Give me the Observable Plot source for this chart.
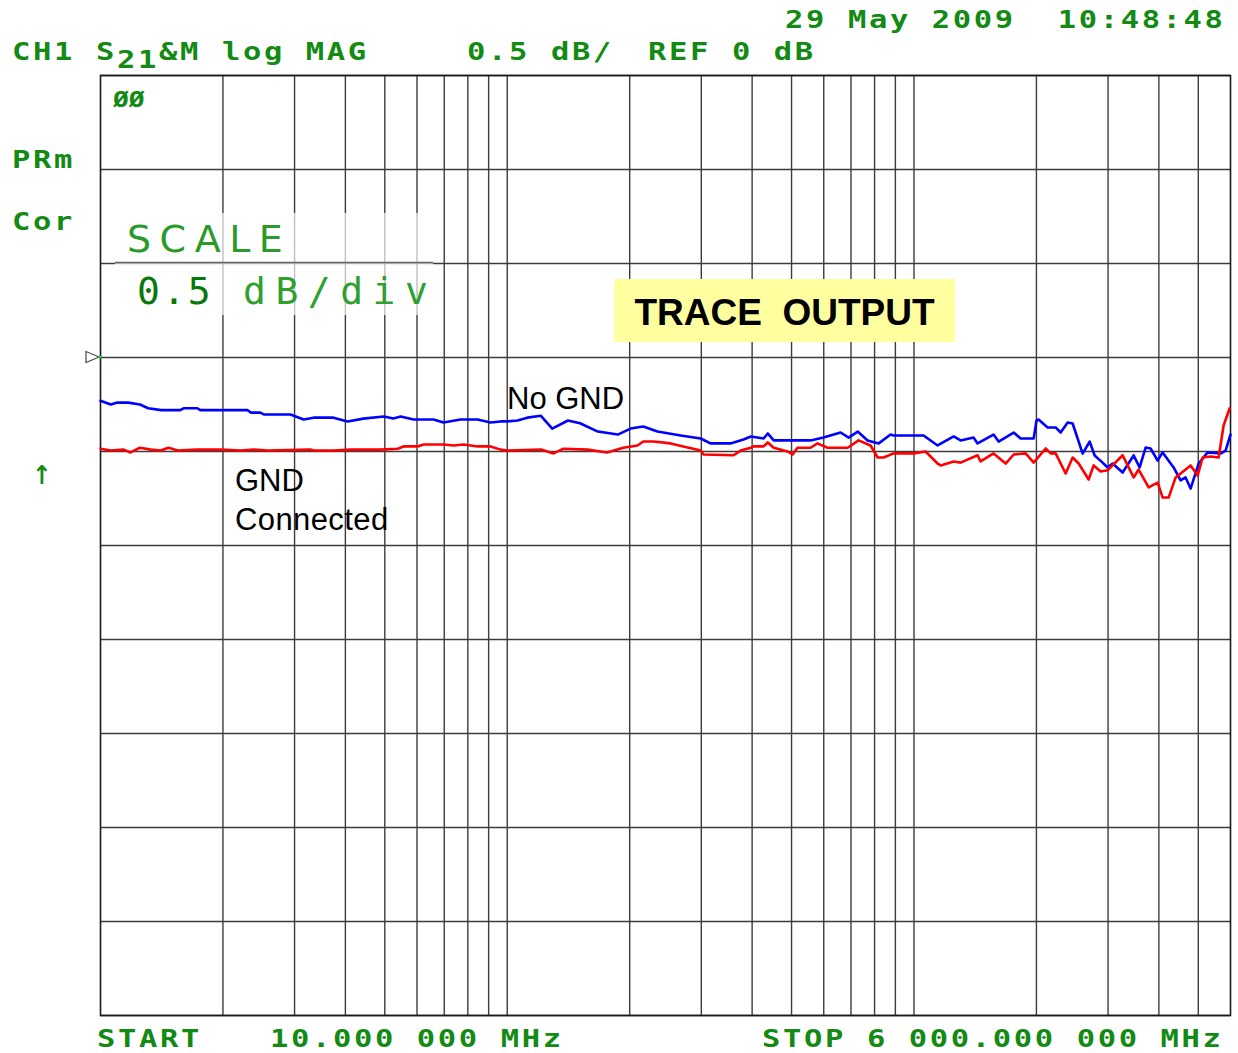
<!DOCTYPE html>
<html>
<head>
<meta charset="utf-8">
<script src="https://cdn.jsdelivr.net/npm/d3@7"></script>
<script src="https://cdn.jsdelivr.net/npm/@observablehq/plot@0.6"></script>
<style>
  html, body { margin: 0; padding: 0; background: #fff; }
  #chart { width: 1238px; height: 1053px; position: relative; }
</style>
</head>
<body>
<div id="chart"></div>
<script>
// Frequency grid (MHz) on the log axis, and level grid (dB), 0.5 dB/div
const xGridMHz = [20, 30, 40, 50, 60, 70, 80, 90, 100, 200, 300, 400, 500, 600, 700, 800, 900, 1000, 2000, 3000, 4000, 5000];
const yGridDb = [-3.5, -3, -2.5, -2, -1.5, -1, -0.5, 0, 0.5, 1, 1.5];
const startMHz = 10;
const stopMHz = 6000;

// Trace "No GND" (blue): [frequency MHz, S21 dB]
const noGndTrace = [
  [10,-0.23],[10.6,-0.25],[11.0,-0.24],[11.7,-0.24],[12.5,-0.25],[13.1,-0.27],[14.1,-0.28],[15.7,-0.28],
  [16.0,-0.27],[17.3,-0.27],[17.6,-0.28],[19.0,-0.28],[19.7,-0.28],[23.0,-0.28],[23.4,-0.293],[24.7,-0.293],
  [25.2,-0.303],[29.3,-0.303],[31.6,-0.33],[33.4,-0.32],[37.4,-0.32],[40.5,-0.34],[44.3,-0.325],[49.7,-0.314],
  [52.5,-0.324],[54.7,-0.314],[58.8,-0.33],[65.9,-0.33],[69.7,-0.346],[76.8,-0.33],[84.5,-0.33],[91.0,-0.346],
  [96.3,-0.34],[100,-0.34],[106,-0.335],[112,-0.32],[121,-0.31],[129,-0.378],[141,-0.335],[151,-0.35],
  [167,-0.394],[187,-0.41],[201,-0.378],[216,-0.367],[234,-0.394],[267,-0.415],[299,-0.431],[316,-0.457],
  [354,-0.457],[381,-0.436],[397,-0.42],[427,-0.431],[437,-0.404],[452,-0.441],[497,-0.441],[557,-0.441],
  [599,-0.426],[660,-0.399],[691,-0.426],[727,-0.394],[769,-0.441],[819,-0.457],[876,-0.41],[891,-0.415],
  [1056,-0.415],[1143,-0.468],[1252,-0.42],[1302,-0.441],[1401,-0.426],[1433,-0.457],[1569,-0.41],[1615,-0.447],
  [1758,-0.399],[1829,-0.431],[1969,-0.431],[2001,-0.335],[2024,-0.33],[2131,-0.372],[2230,-0.372],[2294,-0.399],
  [2387,-0.346],[2455,-0.351],[2598,-0.511],[2703,-0.447],[2781,-0.521],[2909,-0.559],[2992,-0.585],[3078,-0.564],
  [3258,-0.612],[3467,-0.521],[3587,-0.585],[3711,-0.479],[3817,-0.484],[3972,-0.548],[4086,-0.505],[4348,-0.585],
  [4524,-0.654],[4653,-0.638],[4787,-0.697],[5010,-0.564],[5271,-0.505],[5673,-0.511],[5836,-0.495],[6000,-0.41]
];

// Trace "GND Connected" (red): [frequency MHz, S21 dB]
const gndTrace = [
  [10,-0.485],[10.6,-0.495],[11.4,-0.49],[11.85,-0.505],[12.5,-0.48],[13.3,-0.49],[14.05,-0.495],[14.7,-0.48],
  [15.5,-0.495],[17.3,-0.49],[19.7,-0.49],[22.1,-0.495],[23.8,-0.49],[25.7,-0.495],[32.8,-0.49],[33.4,-0.495],
  [37.4,-0.495],[41.2,-0.49],[48.8,-0.49],[53.8,-0.485],[55.6,-0.473],[60.2,-0.473],[62.3,-0.463],[69.7,-0.463],
  [73.8,-0.468],[78.1,-0.463],[84.5,-0.473],[91,-0.473],[96.3,-0.49],[100,-0.495],[121,-0.49],[130,-0.51],
  [137.5,-0.485],[157.6,-0.49],[176,-0.505],[193,-0.48],[209,-0.468],[216,-0.447],[229,-0.447],[252,-0.457],
  [271,-0.473],[299,-0.495],[304,-0.516],[360,-0.52],[375,-0.495],[397,-0.48],[403,-0.473],[427,-0.473],
  [437,-0.452],[452,-0.48],[489,-0.50],[503,-0.516],[517,-0.48],[557,-0.48],[579,-0.457],[613,-0.48],
  [687,-0.48],[731,-0.441],[782,-0.468],[814,-0.532],[842,-0.532],[891,-0.51],[998,-0.51],[1068,-0.50],
  [1143,-0.564],[1163,-0.574],[1252,-0.553],[1302,-0.559],[1433,-0.52],[1458,-0.553],[1569,-0.51],[1680,-0.564],
  [1758,-0.516],[1882,-0.51],[1969,-0.559],[2107,-0.484],[2168,-0.51],[2230,-0.51],[2360,-0.617],[2455,-0.532],
  [2540,-0.564],[2688,-0.649],[2765,-0.574],[2876,-0.606],[2992,-0.60],[3258,-0.52],[3467,-0.638],[3567,-0.596],
  [3775,-0.691],[3972,-0.665],[4086,-0.745],[4227,-0.745],[4398,-0.638],[4787,-0.574],[4981,-0.628],[5124,-0.532],
  [5361,-0.527],[5610,-0.532],[5770,-0.362],[5970,-0.271]
];

const toRows = (arr, name) => arr.map(([f, db]) => ({f, db, name}));

const svg = Plot.plot({
  width: 1238,
  height: 1053,
  marginLeft: 100,
  marginRight: 8,
  marginTop: 75,
  marginBottom: 38,
  style: {background: "#fff", overflow: "visible"},
  x: {type: "log", domain: [startMHz, stopMHz], axis: null},
  y: {domain: [-3.5, 1.5], axis: null},
  marks: [
    Plot.ruleX(xGridMHz, {stroke: "#3c3c3c", strokeWidth: 1.4}),
    Plot.ruleY(yGridDb, {stroke: "#3c3c3c", strokeWidth: 1.4}),
    Plot.frame({stroke: "#1a1a1a", strokeWidth: 1.6}),
    Plot.line(toRows(noGndTrace, "No GND"), {x: "f", y: "db", stroke: "#0000ff", strokeWidth: 2.6}),
    Plot.line(toRows(gndTrace, "GND Connected"), {x: "f", y: "db", stroke: "#ff0000", strokeWidth: 2.6})
  ]
});
document.getElementById("chart").appendChild(svg);

// ---- annotations (analyzer screen text) ----
const g = d3.select(svg).append("g");
const green = "#138a13";
const mono = "'DejaVu Sans Mono', monospace";

function lbl(txt, x, y, opts = {}) {
  const sx = opts.sx || 1;
  g.append("text")
    .attr("transform", `translate(${x},${y}) scale(${sx},1)`)
    .attr("fill", opts.fill || green)
    .attr("font-family", opts.family || mono)
    .attr("font-weight", opts.weight || "bold")
    .attr("font-size", opts.size || 25)
    .attr("letter-spacing", opts.ls != null ? opts.ls : 0)
    .attr("text-anchor", opts.anchor || "start")
    .attr("xml:space", "preserve")
    .style("white-space", "pre")
    .text(txt);
}
// HP-style screen font: wide glyphs, 21 px per character cell
const hp = {size: 25, sx: 1.22, ls: 2.15};

// header
lbl("29 May 2009  10:48:48", 785, 28, hp);
lbl("CH1 S", 12, 60, hp);
lbl("21", 117, 68, hp);
lbl("&M log MAG", 159, 60, hp);
lbl("0.5 dB/", 467, 60, hp);
lbl("REF 0 dB", 648, 60, hp);
// left status
lbl("PRm", 12, 168, hp);
lbl("Cor", 12, 230, hp);
lbl("\u2191", 42, 484, {family: "'DejaVu Sans', sans-serif", anchor: "middle", size: 26, sx: 0.9});
lbl("ØØ", 113, 107, {size: 21, sx: 1.25, ls: 0});
// footer
lbl("START", 97, 1047, hp);
lbl("10.000 000 MHz", 270, 1047, hp);
lbl("STOP 6 000.000 000 MHz", 762, 1047, hp);

// reference position marker
g.append("path")
  .attr("d", "M86,351.5 L99,357 L86,362.5 Z")
  .attr("fill", "none").attr("stroke", "#555").attr("stroke-width", 1.3);
g.append("circle").attr("cx", 100).attr("cy", 357).attr("r", 1.6).attr("fill", "#2c2");

// SCALE overlay box
g.append("rect").attr("x", 115).attr("y", 213).attr("width", 318).attr("height", 102)
  .attr("fill", "#fff").attr("fill-opacity", 0.68);
g.append("line").attr("x1", 115).attr("x2", 433).attr("y1", 262.5).attr("y2", 262.5)
  .attr("stroke", "#666").attr("stroke-width", 1.6);
lbl("SCALE", 127, 252, {family: "'DejaVu Sans', sans-serif", weight: "normal", size: 38, ls: 8.5, fill: "#2b9a2b"});
lbl("0.5", 137, 304, {weight: "normal", size: 38, ls: 2.5, fill: "#087808"});
lbl("dB/div", 243, 304, {weight: "normal", size: 38, ls: 9.5, fill: "#2fa02f"});

// TRACE OUTPUT box
g.append("rect").attr("x", 614).attr("y", 279).attr("width", 341).attr("height", 63).attr("fill", "#ffffa0");
lbl("TRACE  OUTPUT", 784.5, 325, {family: "'Liberation Sans', Arial, sans-serif", size: 37, ls: 0, fill: "#000", anchor: "middle"});

// trace labels
const sans = "'Liberation Sans', Arial, sans-serif";
lbl("No GND", 507, 409, {family: sans, weight: "normal", size: 31, ls: 0, fill: "#000"});
lbl("GND", 235, 491, {family: sans, weight: "normal", size: 31, ls: 0, fill: "#000"});
lbl("Connected", 235, 530, {family: sans, weight: "normal", size: 31, ls: 0.4, fill: "#000"});
</script>
</body>
</html>
